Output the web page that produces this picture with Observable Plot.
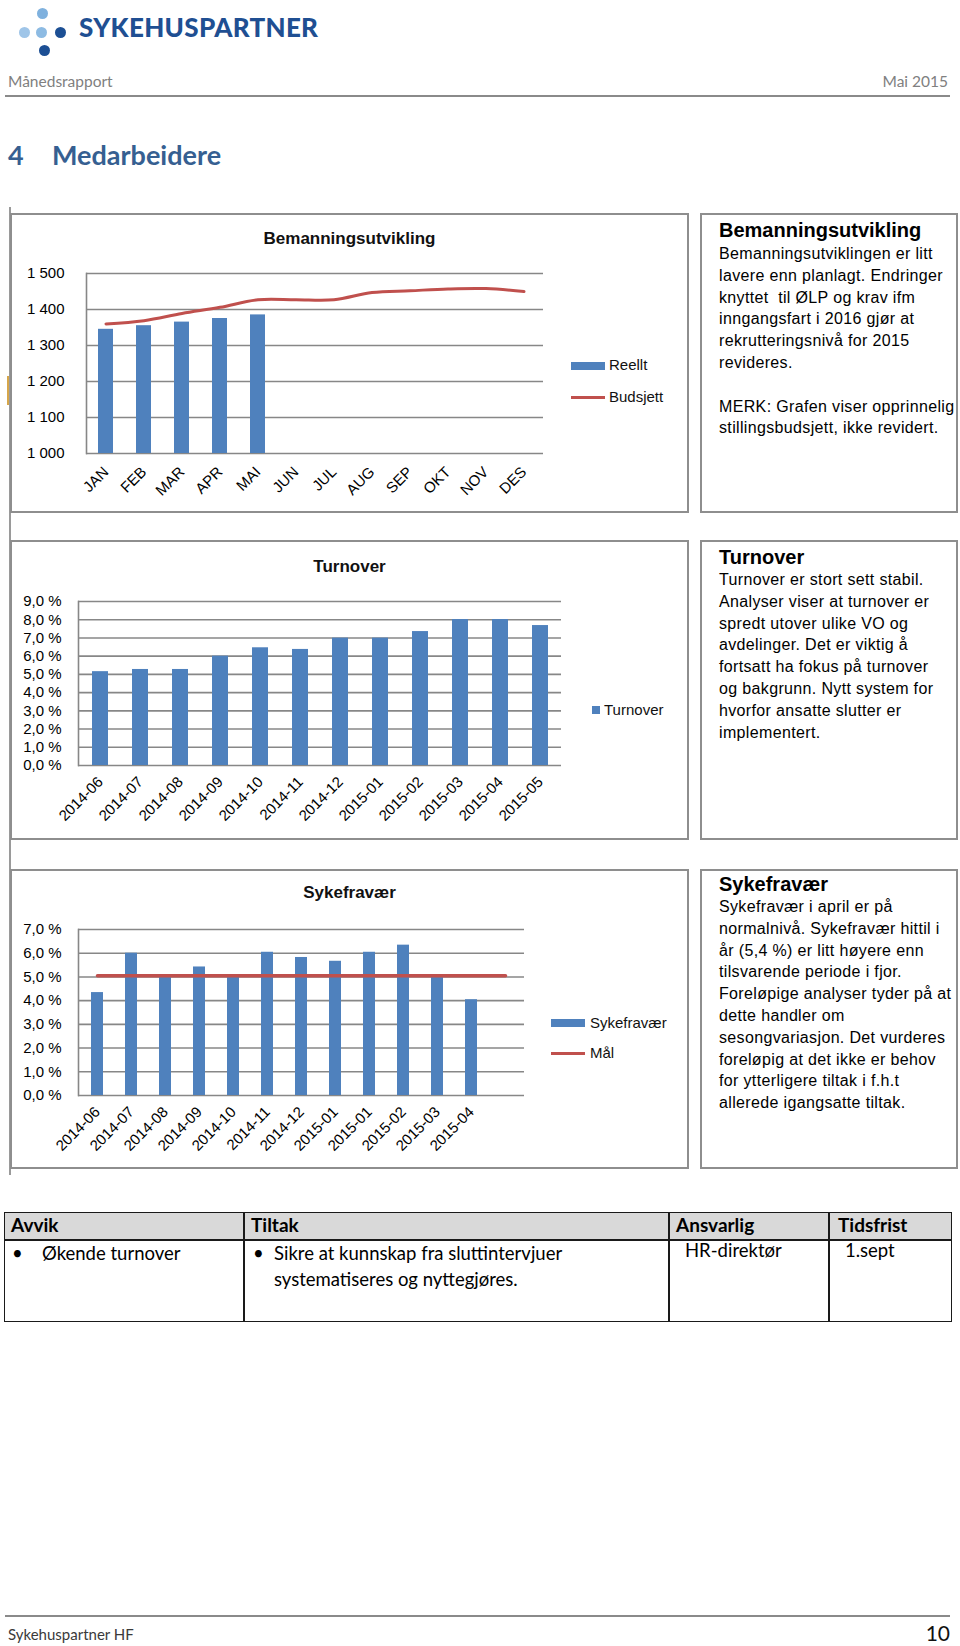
<!DOCTYPE html>
<html>
<head>
<meta charset="utf-8">
<script src="https://cdn.jsdelivr.net/npm/d3@7"></script>
<script src="https://cdn.jsdelivr.net/npm/@observablehq/plot@0.6"></script>
<style>
  html, body { margin: 0; padding: 0; background: #fff; }
  body { position: relative; width: 960px; height: 1646px; font-family: Lato, "Open Sans", sans-serif; color: #000; overflow: hidden; }
  .abs { position: absolute; }
  .dot { position: absolute; width: 11px; height: 11px; border-radius: 50%; }
  .chart { position: absolute; left: 10px; width: 679px; height: 300px; background: #fff; }
  .chart svg { position: absolute; left: 0; top: 0; }
  .border { position: absolute; left: 0; top: 0; right: 0; bottom: 0; border: 2px solid #8e8e8e; box-sizing: border-box; pointer-events: none; }
  .ctitle { position: absolute; left: 0; width: 100%; text-align: center; font: bold 17px "Liberation Sans", Arial, sans-serif; color: #111; line-height: 20px; }
  .leg { position: absolute; font: 15px "Liberation Sans", Arial, sans-serif; color: #111; line-height: 18px; white-space: nowrap; }
  .sw { position: absolute; }
  .tbox { position: absolute; left: 700px; width: 258px; height: 300px; border: 2px solid #8e8e8e; box-sizing: border-box; background: #fff; }
  .tbox .t { position: absolute; left: 17px; font: bold 20px "Liberation Sans", Arial, sans-serif; line-height: 22px; white-space: nowrap; }
  .tbox .b { position: absolute; left: 17px; font: 16px "Liberation Sans", Arial, sans-serif; letter-spacing: 0.35px; line-height: 21.8px; white-space: nowrap; }
  .cell { position: absolute; font-size: 18.5px; line-height: 25.5px; white-space: nowrap; }
  .hdr { position: absolute; font-weight: bold; font-size: 19px; line-height: 28px; white-space: nowrap; }
</style>
</head>
<body>
<!-- logo -->
<div class="dot" style="left:37px;top:8px;background:#7fb1de"></div>
<div class="dot" style="left:19px;top:27px;background:#9fc5e8"></div>
<div class="dot" style="left:36px;top:27px;background:#8dbbe3"></div>
<div class="dot" style="left:55px;top:27px;background:#1c4f94"></div>
<div class="dot" style="left:39px;top:45px;background:#1c4f94"></div>
<div class="abs" style="left:79px;top:12px;font:900 26px Lato, sans-serif;letter-spacing:0.3px;color:#1f4f92;line-height:30px;">SYKEHUSPARTNER</div>

<div class="abs" style="left:8px;top:71px;font-size:15.5px;color:#808080;line-height:20px;">Månedsrapport</div>
<div class="abs" style="right:12px;top:71px;font-size:15.5px;color:#808080;line-height:20px;">Mai 2015</div>
<div class="abs" style="left:5px;top:95px;width:945px;height:1.5px;background:#8a8a8a"></div>

<div class="abs" style="left:8px;top:138px;font:bold 27px Lato, sans-serif;color:#365f91;line-height:34px;">4</div>
<div class="abs" style="left:52px;top:138px;font:bold 27px Lato, sans-serif;color:#365f91;line-height:34px;">Medarbeidere</div>

<!-- left long line and orange mark -->
<div class="abs" style="left:9px;top:207px;width:1.5px;height:968px;background:#9a9a9a"></div>
<div class="abs" style="left:7px;top:376px;width:1.5px;height:29px;background:#d6a64a"></div>

<!-- chart 1 -->
<div class="chart" id="c1" style="top:213px;">
  <div class="ctitle" style="top:16px;">Bemanningsutvikling</div>
  <div class="sw" style="left:561px;top:149px;width:34px;height:8px;background:#4f81bd"></div>
  <div class="leg" style="left:599px;top:143px;">Reellt</div>
  <div class="sw" style="left:561px;top:183px;width:34px;height:3px;background:#c0504d"></div>
  <div class="leg" style="left:599px;top:175px;">Budsjett</div>
  <div class="border"></div>
</div>
<div class="tbox" style="top:213px;">
  <div class="t" style="top:4px;">Bemanningsutvikling</div>
  <div class="b" style="top:28px;">Bemanningsutviklingen er litt<br>lavere enn planlagt. Endringer<br>knyttet&nbsp; til ØLP og krav ifm<br>inngangsfart i 2016 gjør at<br>rekrutteringsnivå for 2015<br>revideres.<br><br>MERK: Grafen viser opprinnelig<br>stillingsbudsjett, ikke revidert.</div>
</div>

<!-- chart 2 -->
<div class="chart" id="c2" style="top:540px;">
  <div class="ctitle" style="top:17px;">Turnover</div>
  <div class="sw" style="left:582px;top:166px;width:8px;height:8px;background:#4f81bd"></div>
  <div class="leg" style="left:594px;top:161px;">Turnover</div>
  <div class="border"></div>
</div>
<div class="tbox" style="top:540px;">
  <div class="t" style="top:4px;">Turnover</div>
  <div class="b" style="top:27px;">Turnover er stort sett stabil.<br>Analyser viser at turnover er<br>spredt utover ulike VO og<br>avdelinger. Det er viktig å<br>fortsatt ha fokus på turnover<br>og bakgrunn. Nytt system for<br>hvorfor ansatte slutter er<br>implementert.</div>
</div>

<!-- chart 3 -->
<div class="chart" id="c3" style="top:869px;">
  <div class="ctitle" style="top:14px;">Sykefravær</div>
  <div class="sw" style="left:541px;top:150px;width:34px;height:8px;background:#4f81bd"></div>
  <div class="leg" style="left:580px;top:145px;">Sykefravær</div>
  <div class="sw" style="left:541px;top:183px;width:34px;height:3px;background:#c0504d"></div>
  <div class="leg" style="left:580px;top:175px;">Mål</div>
  <div class="border"></div>
</div>
<div class="tbox" style="top:869px;">
  <div class="t" style="top:2px;">Sykefravær</div>
  <div class="b" style="top:25px;">Sykefravær i april er på<br>normalnivå. Sykefravær hittil i<br>år (5,4 %) er litt høyere enn<br>tilsvarende periode i fjor.<br>Foreløpige analyser tyder på at<br>dette handler om<br>sesongvariasjon. Det vurderes<br>foreløpig at det ikke er behov<br>for ytterligere tiltak i f.h.t<br>allerede igangsatte tiltak.</div>
</div>

<!-- table -->
<div class="abs" style="left:4px;top:1212px;width:948px;height:28px;background:#d9d9d9"></div>
<div class="abs" style="left:4px;top:1212px;width:948px;height:110px;border:1.5px solid #1a1a1a;box-sizing:border-box"></div>
<div class="abs" style="left:4px;top:1239px;width:948px;height:1.5px;background:#1a1a1a"></div>
<div class="abs" style="left:243px;top:1212px;width:1.5px;height:110px;background:#1a1a1a"></div>
<div class="abs" style="left:668px;top:1212px;width:1.5px;height:110px;background:#1a1a1a"></div>
<div class="abs" style="left:828px;top:1212px;width:1.5px;height:110px;background:#1a1a1a"></div>
<div class="hdr" style="left:11px;top:1211px;">Avvik</div>
<div class="hdr" style="left:251px;top:1211px;">Tiltak</div>
<div class="hdr" style="left:676px;top:1211px;">Ansvarlig</div>
<div class="hdr" style="left:838px;top:1211px;">Tidsfrist</div>
<div class="cell" style="left:12px;top:1241px;">•</div>
<div class="cell" style="left:42px;top:1241px;">Økende turnover</div>
<div class="cell" style="left:253px;top:1241px;">•</div>
<div class="cell" style="left:274px;top:1241px;">Sikre at kunnskap fra sluttintervjuer<br>systematiseres og nyttegjøres.</div>
<div class="cell" style="left:685px;top:1238px;">HR-direktør</div>
<div class="cell" style="left:845px;top:1238px;">1.sept</div>

<!-- footer -->
<div class="abs" style="left:5px;top:1615px;width:945px;height:1.5px;background:#8a8a8a"></div>
<div class="abs" style="left:8px;top:1624px;font-size:15px;color:#3a3a3a;line-height:20px;">Sykehuspartner HF</div>
<div class="abs" style="right:10px;top:1620px;font-size:21px;color:#111;line-height:26px;">10</div>

<script>
// ---------- data ----------
const months = ["JAN", "FEB", "MAR", "APR", "MAI", "JUN", "JUL", "AUG", "SEP", "OKT", "NOV", "DES"];
const reellt = [1345, 1355, 1365, 1375, 1385];
const budsjett = [1360, 1369, 1389, 1406, 1427, 1427, 1427, 1447, 1452, 1457, 1458, 1450];
const bemTicks = [1000, 1100, 1200, 1300, 1400, 1500];

const turnoverMonths = ["2014-06", "2014-07", "2014-08", "2014-09", "2014-10", "2014-11", "2014-12", "2015-01", "2015-02", "2015-03", "2015-04", "2015-05"];
const turnover = [5.15, 5.27, 5.27, 6.0, 6.46, 6.37, 6.99, 6.99, 7.35, 8.01, 8.01, 7.68];
const turnoverTicks = [0, 1, 2, 3, 4, 5, 6, 7, 8, 9];

const sykMonths = ["2014-06", "2014-07", "2014-08", "2014-09", "2014-10", "2014-11", "2014-12", "2015-01", "2015-01", "2015-02", "2015-03", "2015-04", ""];
const sykefravaer = [4.34, 6.0, 5.03, 5.42, 5.0, 6.04, 5.82, 5.66, 6.04, 6.34, 5.03, 4.04];
const maal = [5.05, 5.05, 5.05, 5.05, 5.05, 5.05, 5.05, 5.05, 5.05, 5.05, 5.05, 5.05, 5.05];
const sykTicks = [0, 1, 2, 3, 4, 5, 6, 7];

// ---------- helpers ----------
const fmtThousand = d => d3.format(",")(d).replace(/,/g, " ");
const fmtPct = d => d3.format(".1f")(d).replace(".", ",") + " %";
const BAR = "#4f81bd", RED = "#c0504d", GRID = "#878787";
const baseStyle = {fontFamily: '"Liberation Sans", Arial, sans-serif', fontSize: "15px", color: "#000", background: "transparent", overflow: "visible"};

// ---------- chart 1 ----------
const bemRows = months.map((m, i) => ({m, reellt: reellt[i], budsjett: budsjett[i]}));
const c1 = Plot.plot({
  width: 679, height: 300,
  marginLeft: 76, marginRight: 146, marginTop: 60, marginBottom: 60,
  style: baseStyle,
  x: {domain: months, paddingInner: 0.6, paddingOuter: 0.3, label: null, tickRotate: -45, tickSize: 0, tickPadding: 16},
  y: {domain: [1000, 1500], ticks: bemTicks, tickFormat: fmtThousand, label: null, tickSize: 0, tickPadding: 22},
  marks: [
    Plot.ruleY(bemTicks, {stroke: GRID, strokeWidth: 1.6}),
    Plot.frame({anchor: "left", stroke: GRID, strokeWidth: 1.6}),
    Plot.barY(bemRows.filter(d => d.reellt != null), {x: "m", y: "reellt", fill: BAR, clip: true}),
    Plot.line(bemRows, {x: "m", y: "budsjett", stroke: RED, strokeWidth: 3, curve: "catmull-rom"})
  ]
});
document.getElementById("c1").prepend(c1);

// ---------- chart 2 ----------
const tRows = turnoverMonths.map((m, i) => ({m, v: turnover[i]}));
const c2 = Plot.plot({
  width: 679, height: 300,
  marginLeft: 68, marginRight: 128, marginTop: 61, marginBottom: 75,
  style: baseStyle,
  x: {domain: turnoverMonths, paddingInner: 0.6, paddingOuter: 0.3, label: null, tickRotate: -45, tickSize: 0, tickPadding: 14},
  y: {domain: [0, 9], ticks: turnoverTicks, tickFormat: fmtPct, label: null, tickSize: 0, tickPadding: 17},
  marks: [
    Plot.ruleY(turnoverTicks, {stroke: GRID, strokeWidth: 1.6}),
    Plot.frame({anchor: "left", stroke: GRID, strokeWidth: 1.6}),
    Plot.barY(tRows, {x: "m", y: "v", fill: BAR})
  ]
});
document.getElementById("c2").prepend(c2);

// ---------- chart 3 ----------
const sRows = sykMonths.map((m, i) => ({i, m, v: sykefravaer[i], goal: maal[i]}));
const c3 = Plot.plot({
  width: 679, height: 300,
  marginLeft: 68, marginRight: 165, marginTop: 60, marginBottom: 74,
  style: baseStyle,
  x: {domain: sRows.map(d => d.i), paddingInner: 0.64, paddingOuter: 0.32, label: null, tickRotate: -45, tickSize: 0, tickPadding: 14, tickFormat: i => sykMonths[i]},
  y: {domain: [0, 7], ticks: sykTicks, tickFormat: fmtPct, label: null, tickSize: 0, tickPadding: 17},
  marks: [
    Plot.ruleY(sykTicks, {stroke: GRID, strokeWidth: 1.6}),
    Plot.frame({anchor: "left", stroke: GRID, strokeWidth: 1.6}),
    Plot.barY(sRows.filter(d => d.v != null), {x: "i", y: "v", fill: BAR}),
    Plot.line(sRows, {x: "i", y: "goal", stroke: RED, strokeWidth: 3.5})
  ]
});
document.getElementById("c3").prepend(c3);
</script>
</body>
</html>
